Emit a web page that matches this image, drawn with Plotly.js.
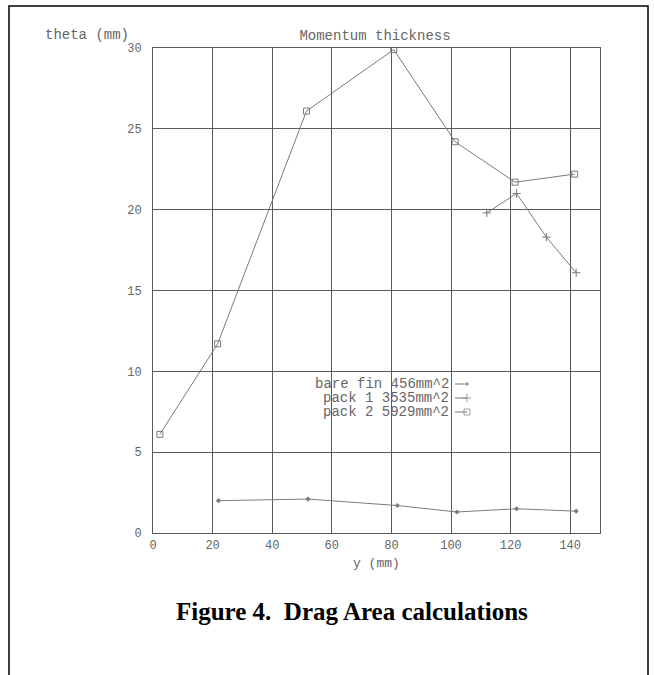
<!DOCTYPE html>
<html>
<head>
<meta charset="utf-8">
<script src="https://cdn.plot.ly/plotly-3.0.1.min.js"></script>
<style>html,body{margin:0;padding:0;background:#fff;}#chart{width:655px;height:675px;}</style>
</head>
<body>
<div id="chart"></div>
<script>
// Data
const bareFinX = [22, 52, 82, 102, 122, 142];
const bareFinY = [2.0, 2.1, 1.7, 1.3, 1.5, 1.35];
const pack1X = [112, 122, 132, 142];
const pack1Y = [19.8, 21.0, 18.3, 16.1];
const pack2X = [2.3, 21.7, 51.5, 80.8, 101.4, 121.5, 141.5];
const pack2Y = [6.1, 11.7, 26.1, 29.9, 24.2, 21.7, 22.2];
const seriesNames = ["bare fin 456mm^2", "pack 1 3535mm^2", "pack 2 5929mm^2"];
const xTicks = [0, 20, 40, 60, 80, 100, 120, 140];
const yTicks = [0, 5, 10, 15, 20, 25, 30];

const mono = "Liberation Mono, Courier New, monospace";
const lineCol = "#7a7a7a";
const gridCol = "#5a5a5a";
const textCol = "#666";

const W = 655, H = 675;
const L = 153, R = 600, T = 48, B = 533;
const pw = R - L, ph = B - T;
const px = v => (v - L) / pw;      // pixel -> paper x
const py = v => (B - v) / ph;      // pixel -> paper y

const markerStyles = [
  {symbol: "diamond", size: 4, color: lineCol},
  {symbol: "cross-thin", size: 6, color: lineCol, line: {width: 1, color: lineCol}},
  {symbol: "square-open", size: 6, color: lineCol, line: {width: 1, color: lineCol}}
];

const traces = [
  {x: bareFinX, y: bareFinY, name: seriesNames[0], mode: "lines+markers",
   line: {color: lineCol, width: 1}, marker: markerStyles[0]},
  {x: pack1X, y: pack1Y, name: seriesNames[1], mode: "lines+markers",
   line: {color: lineCol, width: 1}, marker: markerStyles[1]},
  {x: pack2X, y: pack2Y, name: seriesNames[2], mode: "lines+markers",
   line: {color: lineCol, width: 1}, marker: markerStyles[2]}
];

// custom legend (text left of sample) on an overlay axis in paper units
const legRows = [384, 398, 412];
const legendTraces = seriesNames.map((n, i) => {
  const m = Object.assign({}, markerStyles[i]);
  m.size = [0, markerStyles[i].size];
  return {
    x: [px(455), px(467)], y: [py(legRows[i]), py(legRows[i])],
    xaxis: "x2", yaxis: "y2", mode: "lines+markers", hoverinfo: "skip",
    line: {color: lineCol, width: 1}, marker: m, showlegend: false
  };
});

const annotations = [
  {text: "theta (mm)", xref: "paper", yref: "paper", x: px(43), y: py(35),
   xanchor: "left", yanchor: "middle", showarrow: false,
   font: {family: mono, size: 14, color: textCol}},
  {text: "y (mm)", xref: "paper", yref: "paper", x: px(376), y: py(563),
   xanchor: "center", yanchor: "middle", showarrow: false,
   font: {family: mono, size: 13, color: textCol}},
  {text: "<b>Figure 4.\u00a0 Drag Area calculations</b>", xref: "paper", yref: "paper",
   x: px(352), y: py(611), xanchor: "center", yanchor: "middle", showarrow: false,
   font: {family: "Liberation Serif, Times New Roman, serif", size: 25, color: "#000"}}
].concat(seriesNames.map((n, i) => ({
  text: n, xref: "paper", yref: "paper", x: px(451), y: py(legRows[i]),
  xanchor: "right", yanchor: "middle", showarrow: false,
  font: {family: mono, size: 14, color: textCol}
})));

const layout = {
  width: W, height: H,
  margin: {l: L, r: W - R, t: T, b: H - B, pad: 0},
  paper_bgcolor: "#fff", plot_bgcolor: "#fff",
  showlegend: false,
  title: {text: "Momentum thickness", x: 375 / W, xanchor: "center",
          y: 1 - 35 / H, yanchor: "middle",
          font: {family: mono, size: 14, color: textCol}},
  xaxis: {range: [0, 150], tickvals: xTicks, ticktext: xTicks.map(String),
          showgrid: true, gridcolor: gridCol, gridwidth: 1, zeroline: false,
          showline: true, linecolor: gridCol, linewidth: 1, mirror: true,
          ticks: "", ticklabelstandoff: 1,
          tickfont: {family: mono, size: 12, color: textCol}, fixedrange: true},
  yaxis: {range: [0, 30], tickvals: yTicks, ticktext: yTicks.map(String),
          showgrid: true, gridcolor: gridCol, gridwidth: 1, zeroline: false,
          showline: true, linecolor: gridCol, linewidth: 1, mirror: true,
          ticks: "", ticklabelstandoff: 8,
          tickfont: {family: mono, size: 12, color: textCol}, fixedrange: true},
  xaxis2: {overlaying: "x", range: [0, 1], visible: false, fixedrange: true},
  yaxis2: {overlaying: "y", range: [0, 1], visible: false, fixedrange: true},
  annotations: annotations,
  shapes: [
    {type: "rect", xref: "paper", yref: "paper",
     x0: px(9), x1: px(648), y0: py(6), y1: py(690),
     line: {color: "#000", width: 1.5}, fillcolor: "rgba(0,0,0,0)", layer: "below"}
  ]
};

Plotly.newPlot("chart", traces.concat(legendTraces), layout, {staticPlot: true, displayModeBar: false});
</script>
</body>
</html>
